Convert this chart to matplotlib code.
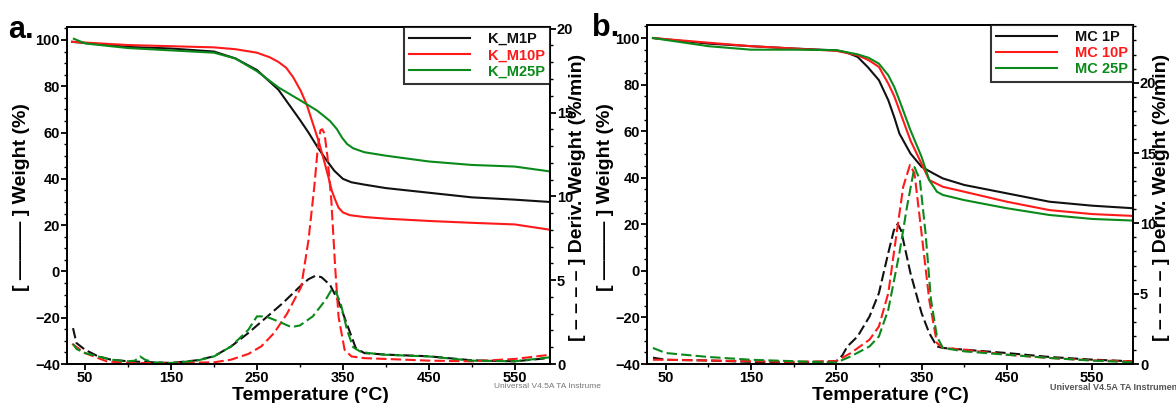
import numpy as np
import matplotlib
matplotlib.use("Agg")
from matplotlib import pyplot as plt
from matplotlib.ticker import MultipleLocator

plt.rcParams['font.family'] = ['Liberation Sans', 'DejaVu Sans']
plt.rcParams['font.weight'] = 'bold'

BLACK = '#111111'
RED = '#ff1a1a'
GREEN = '#0a8a1a'

# ---- panel a: weight (%) ----
a_m1_T = [35, 100, 150, 200, 225, 250, 275, 300, 310, 320, 330, 340, 350, 360, 375, 400, 450, 500, 550, 591]
a_m1_W = [99.2, 97, 96.3, 95, 92, 87, 78.5, 65.5, 60, 54, 48.5, 43.5, 40, 38.5, 37.5, 36, 34, 32, 31, 30]
a_m10_T = [35, 100, 150, 200, 225, 250, 265, 275, 284, 292, 301, 308, 315, 322, 328, 333, 337, 341, 345, 350, 358, 375, 400, 450, 500, 550, 591]
a_m10_W = [99.2, 97.8, 97.3, 96.8, 96, 94.5, 92.5, 90.5, 88, 84, 78, 72, 64, 56, 48, 41, 35, 31, 27.5, 25.5, 24.3, 23.5, 22.8, 21.8, 21, 20.3, 18]
a_m25_T = [37, 50, 100, 150, 200, 225, 250, 275, 300, 320, 335, 343, 349, 355, 362, 375, 400, 450, 500, 550, 591]
a_m25_W = [100.5, 98.5, 96.5, 95.5, 94.5, 92, 86.5, 79.5, 74, 69.5, 65, 61.5, 57.8, 55, 53.2, 51.5, 50, 47.5, 46, 45.3, 43.2]

# ---- panel a: deriv. weight (%/min) ----
a_m1_dT = [36, 40, 50, 65, 80, 100, 150, 180, 200, 220, 240, 260, 280, 300, 310, 318, 325, 335, 345, 355, 365, 375, 400, 450, 500, 550, 591]
a_m1_D = [2.14, 1.25, 0.85, 0.46, 0.26, 0.16, 0.06, 0.22, 0.46, 1.05, 1.85, 2.74, 3.63, 4.62, 5.06, 5.26, 5.18, 4.72, 3.73, 2.34, 0.95, 0.65, 0.56, 0.46, 0.22, 0.16, 0.36]
a_m10_dT = [35, 50, 75, 100, 150, 200, 220, 240, 255, 270, 285, 301.5, 310, 316.8, 321, 324, 326, 328.6, 332, 336.5, 341, 345, 352, 360, 375, 400, 450, 500, 550, 591]
a_m10_D = [1.2, 0.65, 0.16, 0.06, 0.06, 0.1, 0.26, 0.6, 1.05, 1.85, 3.0, 4.6, 7.4, 10.6, 13.0, 13.95, 14.0, 13.75, 12.4, 9.8, 5.8, 2.8, 0.85, 0.45, 0.35, 0.3, 0.2, 0.16, 0.3, 0.55]
a_m25_dT = [36, 40, 50, 80, 100, 108, 114, 120, 130, 150, 180, 200, 220, 240, 250, 260, 275, 290, 300, 315, 330, 337, 342, 348, 355, 362, 370, 380, 400, 450, 500, 550, 591]
a_m25_D = [1.2, 0.9, 0.65, 0.26, 0.16, 0.2, 0.45, 0.25, 0.1, 0.06, 0.2, 0.45, 1.05, 2.04, 2.84, 2.84, 2.54, 2.2, 2.3, 2.84, 3.83, 4.45, 4.3, 3.5, 2.0, 1.0, 0.75, 0.65, 0.55, 0.45, 0.2, 0.16, 0.4]

# ---- panel b: weight (%) ----
b_1_T = [35, 100, 150, 200, 250, 262, 275, 287, 300, 311, 318, 324, 337, 350, 363.6, 375, 400, 450, 500, 550, 598]
b_1_W = [100, 97.6, 96.5, 95.5, 94.7, 93.8, 91.9, 87.5, 81.9, 73.3, 66, 59, 50.4, 44.7, 41.9, 39.7, 36.9, 33.3, 29.7, 28, 26.9]
b_10_T = [35, 100, 150, 200, 250, 275, 288, 300, 311, 318, 324, 337, 350, 359, 375, 400, 450, 500, 550, 598]
b_10_W = [100, 98, 96.5, 95.5, 94.5, 92.6, 90.5, 87.6, 80.4, 75, 69, 56, 46, 39, 36.1, 34, 29.7, 26.1, 24.4, 23.6]
b_25_T = [35, 100, 150, 200, 250, 275, 288, 300, 311, 318, 324, 337, 350, 359, 368, 375, 400, 450, 500, 550, 598]
b_25_W = [100, 96.5, 95, 95, 94.8, 93, 91.5, 89, 84, 79, 73.3, 60.4, 49, 39, 34, 32.6, 30.4, 26.9, 24, 22.3, 21.6]

# ---- panel b: deriv. weight (%/min) ----
b_1_dT = [35, 50, 100, 150, 200, 250, 257, 263, 275, 289, 300, 311, 317.5, 322, 326, 337, 350, 359, 368, 375, 400, 450, 500, 550, 598]
b_1_D = [0.45, 0.3, 0.25, 0.15, 0.1, 0.2, 0.6, 1.25, 1.96, 3.38, 5.04, 7.9, 9.5, 9.96, 9.5, 6.46, 3.62, 2.2, 1.25, 1.14, 1.02, 0.78, 0.5, 0.31, 0.19]
b_10_dT = [35, 50, 100, 150, 200, 250, 267, 289, 300, 311, 319.7, 328.5, 336.4, 341.7, 350, 359, 368, 375, 400, 450, 500, 550, 598]
b_10_D = [0.3, 0.3, 0.25, 0.2, 0.15, 0.2, 0.78, 1.73, 2.67, 5.04, 8.83, 12.6, 14.15, 13.56, 9.3, 4.57, 1.49, 1.14, 1.02, 0.66, 0.43, 0.26, 0.19]
b_25_dT = [35, 50, 100, 150, 200, 250, 267, 289, 300, 311, 324, 333, 341.7, 348, 354.7, 361, 368, 375, 400, 450, 500, 550, 598]
b_25_D = [1.14, 0.78, 0.5, 0.3, 0.2, 0.1, 0.54, 1.25, 1.96, 3.86, 7.88, 11.2, 14.0, 13.1, 9.3, 4.6, 1.96, 1.14, 0.9, 0.66, 0.43, 0.24, 0.12]

labels_a = ['K_M1P', 'K_M10P', 'K_M25P']
labels_b = ['MC 1P', 'MC 10P', 'MC 25P']
colors = [BLACK, RED, GREEN]


def style_axes(ax, ax2, xlim, y2lim):
    ax.set_xlim(*xlim)
    ax.set_ylim(-40, 105.6)
    ax2.set_ylim(*y2lim)
    ax.xaxis.set_minor_locator(MultipleLocator(50))
    ax.set_xticks([50, 150, 250, 350, 450, 550])
    ax.yaxis.set_major_locator(MultipleLocator(20))
    ax.yaxis.set_minor_locator(MultipleLocator(5))
    ax2.yaxis.set_major_locator(MultipleLocator(5))
    ax2.yaxis.set_minor_locator(MultipleLocator(1))
    ax.tick_params(axis='both', which='major', direction='out', length=4, width=1.3,
                   labelsize=10.5, pad=1, top=False)
    ax.tick_params(axis='both', which='minor', direction='out', length=2.5, width=1.0, top=False)
    ax2.tick_params(axis='y', which='major', direction='out', length=4, width=1.3, labelsize=10.5, pad=1)
    ax2.tick_params(axis='y', which='minor', direction='out', length=2.5, width=1.0)
    for lab in ax.get_xticklabels() + ax.get_yticklabels() + ax2.get_yticklabels():
        lab.set_fontweight('bold')
    for sp in list(ax.spines.values()) + list(ax2.spines.values()):
        sp.set_linewidth(1.3)


def draw_panel(ax, weights, derivs, labels, xlim, y2lim):
    ax2 = ax.twinx()
    handles = []
    for (T, W), c, lab in zip(weights, colors, labels):
        h, = ax.plot(T, W, color=c, lw=1.5, label=lab)
        handles.append(h)
    for (T, D), c in zip(derivs, colors):
        ax2.plot(T, D, color=c, lw=1.5, ls=(0, (5, 2)))
    style_axes(ax, ax2, xlim, y2lim)
    leg = ax2.legend(handles, labels, loc='upper right', fontsize=10.5, frameon=True,
                     fancybox=False, edgecolor='black', handlelength=4.2,
                     borderaxespad=0, borderpad=0.35, labelspacing=0.15, handletextpad=1.2,
                     alignment='right')
    leg.get_frame().set_linewidth(1.5)
    for txt, c in zip(leg.get_texts(), colors):
        txt.set_color(c)
        txt.set_fontweight('bold')
    return ax2


fig = plt.figure(figsize=(11.76, 4.03), dpi=100)
W_PX, H_PX = 1176, 403


def axes_px(l, r, t, b):
    return fig.add_axes([l / W_PX, 1 - b / H_PX, (r - l) / W_PX, (b - t) / H_PX])


ax_a = axes_px(67, 550, 27, 364)
ax_b = axes_px(647, 1133, 25, 364)

draw_panel(ax_a,
           [(a_m1_T, a_m1_W), (a_m10_T, a_m10_W), (a_m25_T, a_m25_W)],
           [(a_m1_dT, a_m1_D), (a_m10_dT, a_m10_D), (a_m25_dT, a_m25_D)],
           labels_a, (29, 591), (0, 20.1))
draw_panel(ax_b,
           [(b_1_T, b_1_W), (b_10_T, b_10_W), (b_25_T, b_25_W)],
           [(b_1_dT, b_1_D), (b_10_dT, b_10_D), (b_25_dT, b_25_D)],
           labels_b, (28, 598), (0, 24.1))


def ftext(x, y, s, **kw):
    fig.text(x / W_PX, 1 - y / H_PX, s, **kw)


# panel letters
ftext(8, 30, 'a.', fontsize=22, fontweight='bold', va='center', ha='left')
ftext(592, 28, 'b.', fontsize=22, fontweight='bold', va='center', ha='left')

# axis titles
for cx, lx, rx in [(310, 22, 577), (890, 605, 1162)]:
    ftext(cx, 395, 'Temperature (°C)', fontsize=14, fontweight='bold', ha='center', va='center')
    ftext(lx, 197, '[ ——— ] Weight (%)', fontsize=14, fontweight='bold',
          rotation=90, ha='center', va='center')
    ftext(rx, 197, '[ – – – – ] Deriv. Weight (%/min)', fontsize=14, fontweight='bold',
          rotation=90, ha='center', va='center')

ftext(494, 386, 'Universal V4.5A TA Instrume', fontsize=6, color='#777777',
      fontweight='normal', ha='left', va='center')
ftext(1050, 387, 'Universal V4.5A TA Instrumen', fontsize=6.5, color='#555555',
      fontweight='bold', ha='left', va='center')

fig.savefig('out.png', dpi=100)
